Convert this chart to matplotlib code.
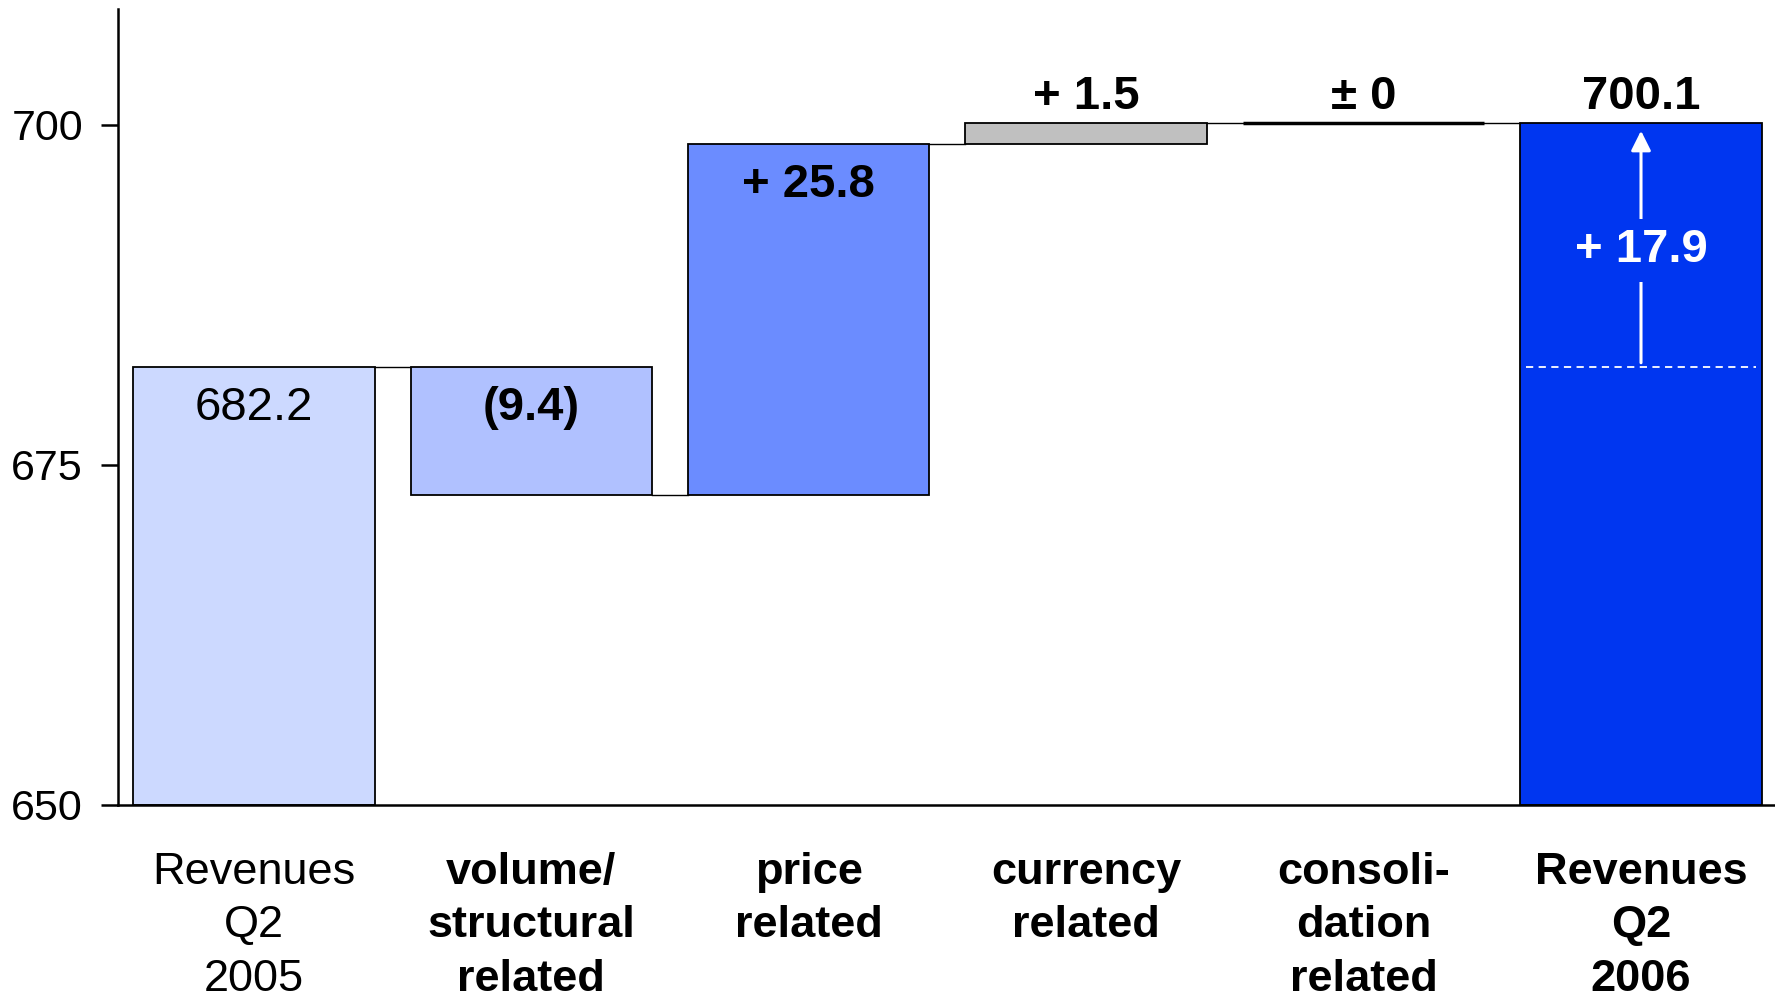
import matplotlib.pyplot as plt
import numpy as np

plt.rcParams['font.family'] = ['Liberation Sans', 'DejaVu Sans']

categories = ['Revenues\nQ2\n2005', 'volume/\nstructural\nrelated', 'price\nrelated',
              'currency\nrelated', 'consoli-\ndation\nrelated', 'Revenues\nQ2\n2006']
start_value = 682.2
changes = [-9.4, 25.8, 1.5, 0.0]
end_value = 700.1
value_labels = ['682.2', '(9.4)', '+ 25.8', '+ 1.5', '\u00b1 0', '700.1']
growth_label = '+ 17.9'
colors = ['#ccd9ff', '#b0c1ff', '#6b8cff', '#c0c0c0', '#ffffff', '#0036f0']

# bottoms and heights of the waterfall pieces
levels = np.concatenate([[start_value], start_value + np.cumsum(changes)])
bottoms = [650.0]
heights = [start_value - 650.0]
for i, c in enumerate(changes):
    bottoms.append(min(levels[i], levels[i + 1]))
    heights.append(abs(c))
bottoms.append(650.0)
heights.append(end_value - 650.0)

x = np.arange(len(categories))
width = 0.87
vsize = 34

fig = plt.figure(figsize=(17.75, 9.97), dpi=100)
ax = fig.add_axes([0.0663, 0.1926, 0.9337, 0.7984])

for i in range(len(categories)):
    lw = 2.5 if heights[i] == 0 else 1.3
    ax.bar(x[i], heights[i], width, bottom=bottoms[i], color=colors[i],
           edgecolor='black', linewidth=lw, zorder=2)

# connector lines between neighbouring bars
conn = list(levels) + [end_value]
for i in range(len(categories) - 1):
    ax.plot([x[i] + width / 2, x[i + 1] - width / 2], [conn[i], conn[i]],
            color='black', linewidth=1.0, zorder=1)

# value labels
ax.text(x[0], start_value - 3.0, value_labels[0], ha='center', va='center', fontsize=vsize)
ax.text(x[1], levels[0] - 3.0, value_labels[1], ha='center', va='center',
        fontsize=vsize, fontweight='bold')
ax.text(x[2], levels[2] - 3.05, value_labels[2], ha='center', va='center',
        fontsize=vsize, fontweight='bold')
ax.text(x[3], levels[3] + 1.9, value_labels[3], ha='center', va='center',
        fontsize=vsize, fontweight='bold')
ax.text(x[4], levels[4] + 1.9, value_labels[4], ha='center', va='center',
        fontsize=vsize, fontweight='bold')
ax.text(x[5], end_value + 1.9, value_labels[5], ha='center', va='center',
        fontsize=vsize, fontweight='bold')

# growth arrow inside the final bar
ax.plot([x[5] - width / 2 + 0.02, x[5] + width / 2 - 0.02], [start_value, start_value],
        color='white', linewidth=1.3, linestyle=(0, (4, 3)), zorder=3)
ax.annotate('', xy=(x[5], end_value - 0.55), xytext=(x[5], start_value + 0.3),
            arrowprops=dict(arrowstyle='-|>', color='white', lw=2.2,
                            mutation_scale=30, shrinkA=0, shrinkB=0), zorder=3)
ax.text(x[5], (start_value + end_value) / 2 - 0.4, growth_label, ha='center', va='center',
        fontsize=vsize, fontweight='bold', color='white', zorder=4,
        bbox=dict(boxstyle='square,pad=0.2', facecolor=colors[5], edgecolor='none'))

ax.set_xlim(-0.491, 5.483)
ax.set_ylim(650, 708.5)
ax.set_yticks([650, 675, 700])
ax.tick_params(axis='y', labelsize=31, length=12, width=1.8, pad=13)
ax.set_xticks(x)
ax.set_xticklabels(categories, fontsize=32.5, linespacing=1.38)
ax.tick_params(axis='x', length=0, pad=34)
for lbl in ax.get_xticklabels()[1:]:
    lbl.set_fontweight('bold')

for side in ['top', 'right']:
    ax.spines[side].set_visible(False)
ax.spines['left'].set_linewidth(1.8)
ax.spines['bottom'].set_linewidth(1.8)
ax.spines['bottom'].set_zorder(5)

plt.savefig('out.png', dpi=100)
